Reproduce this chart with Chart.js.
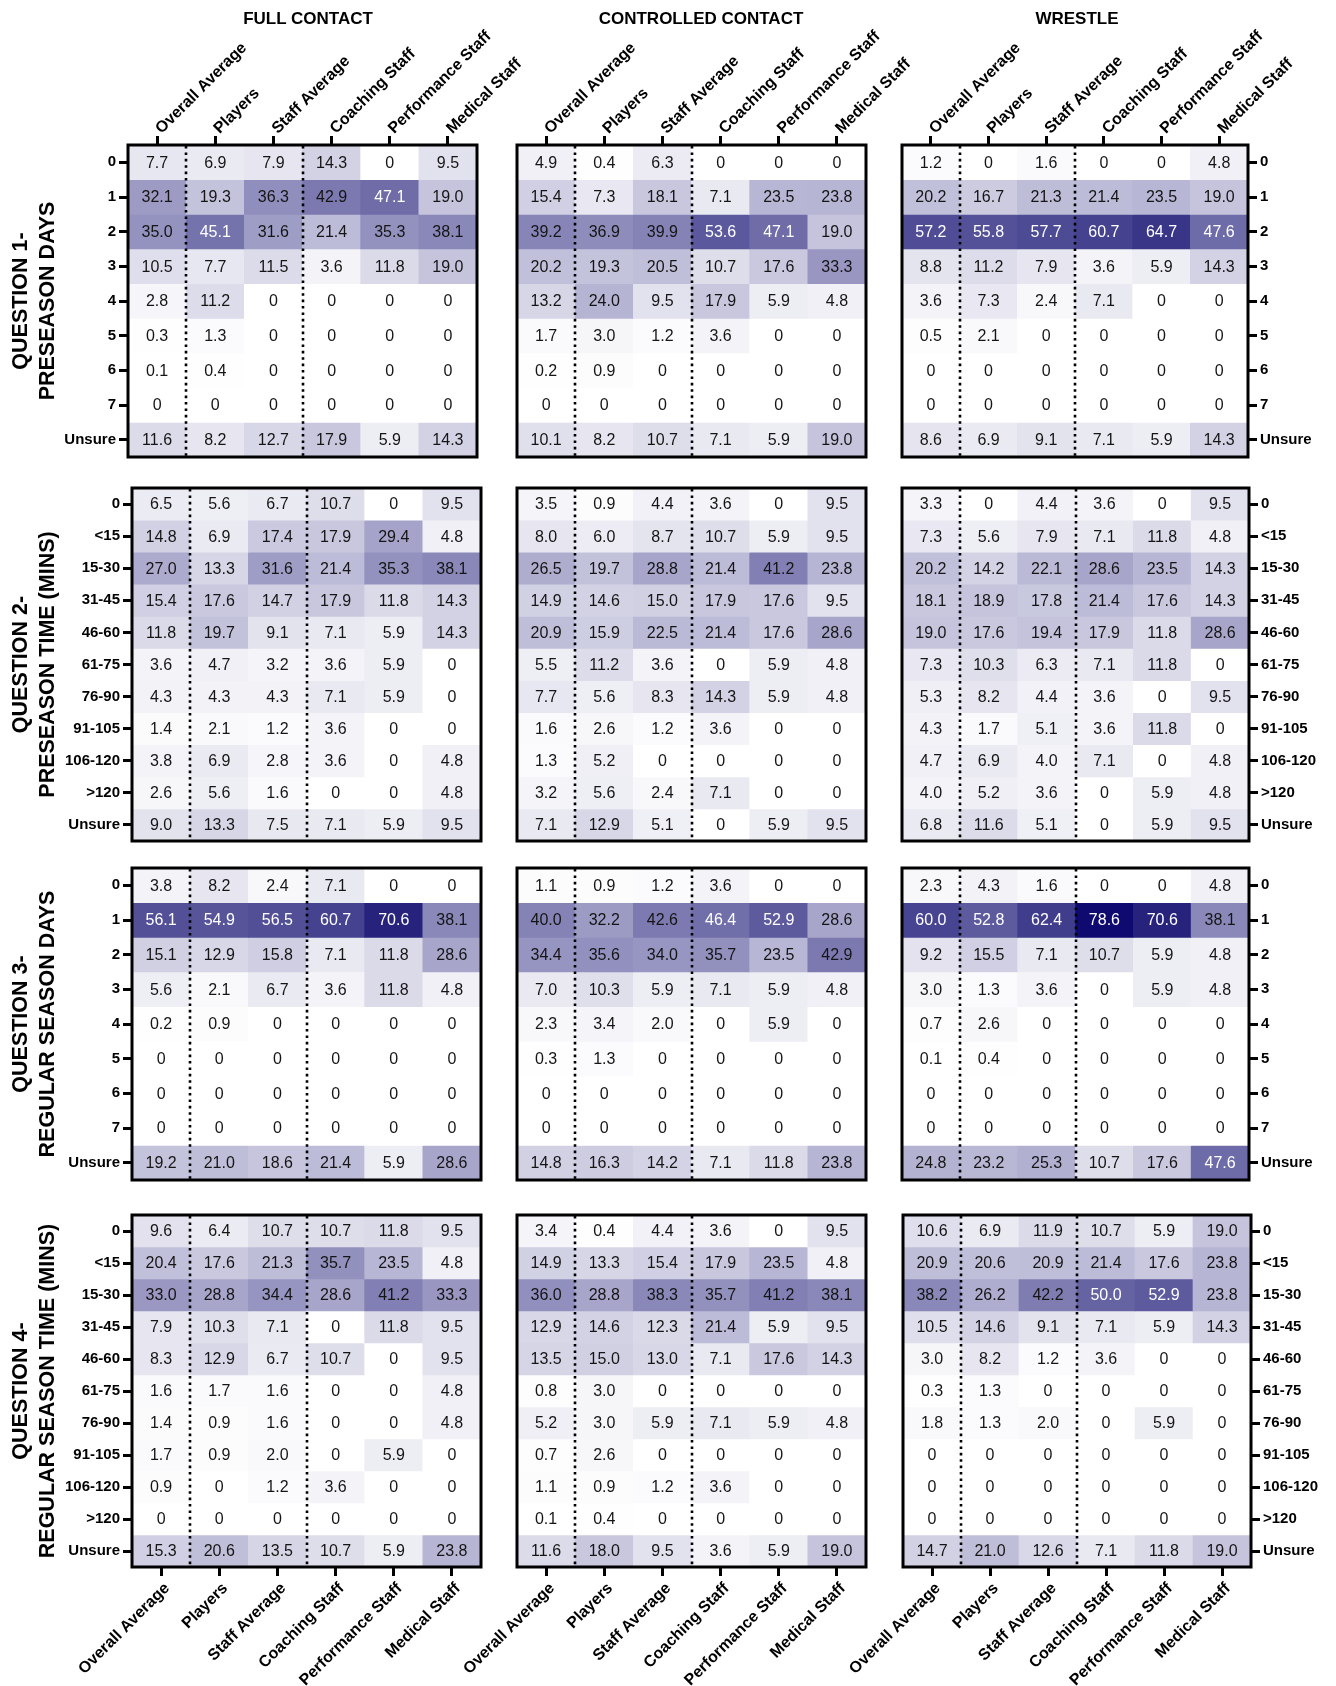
<!DOCTYPE html>
<html>
<head>
<meta charset="utf-8">
<script src="https://cdn.jsdelivr.net/npm/chart.js@4.4.1/dist/chart.umd.min.js"></script>
<style>
html,body{margin:0;padding:0;background:#fff;}
#wrap{position:relative;width:1336px;height:1686px;overflow:hidden;background:#fff;}
.hdr{position:absolute;top:9px;font:bold 17px "Liberation Sans",Arial,Helvetica,sans-serif;transform:translateX(-50%);white-space:nowrap;color:#000;z-index:5;}
canvas{position:absolute;}
</style>
</head>
<body>
<div id="wrap"></div>
<script>
// ---------- categories / labels ----------
const groups = ['Overall Average','Players','Staff Average','Coaching Staff','Performance Staff','Medical Staff'];
const contactTypes = ['FULL CONTACT','CONTROLLED CONTACT','WRESTLE'];
const dayLabels = ['0','1','2','3','4','5','6','7','Unsure'];
const timeLabels = ['0','<15','15-30','31-45','46-60','61-75','76-90','91-105','106-120','>120','Unsure'];
const questionTitles = [
  ['QUESTION 1-','PRESEASON DAYS'],
  ['QUESTION 2-','PRESEASON TIME (MINS)'],
  ['QUESTION 3-','REGULAR SEASON DAYS'],
  ['QUESTION 4-','REGULAR SEASON TIME (MINS)']
];

// ---------- values (% of respondents), rows x groups ----------
const q1FullContact = [
  [7.7, 6.9, 7.9, 14.3, 0, 9.5],
  [32.1, 19.3, 36.3, 42.9, 47.1, 19.0],
  [35.0, 45.1, 31.6, 21.4, 35.3, 38.1],
  [10.5, 7.7, 11.5, 3.6, 11.8, 19.0],
  [2.8, 11.2, 0, 0, 0, 0],
  [0.3, 1.3, 0, 0, 0, 0],
  [0.1, 0.4, 0, 0, 0, 0],
  [0, 0, 0, 0, 0, 0],
  [11.6, 8.2, 12.7, 17.9, 5.9, 14.3]
];
const q1ControlledContact = [
  [4.9, 0.4, 6.3, 0, 0, 0],
  [15.4, 7.3, 18.1, 7.1, 23.5, 23.8],
  [39.2, 36.9, 39.9, 53.6, 47.1, 19.0],
  [20.2, 19.3, 20.5, 10.7, 17.6, 33.3],
  [13.2, 24.0, 9.5, 17.9, 5.9, 4.8],
  [1.7, 3.0, 1.2, 3.6, 0, 0],
  [0.2, 0.9, 0, 0, 0, 0],
  [0, 0, 0, 0, 0, 0],
  [10.1, 8.2, 10.7, 7.1, 5.9, 19.0]
];
const q1Wrestle = [
  [1.2, 0, 1.6, 0, 0, 4.8],
  [20.2, 16.7, 21.3, 21.4, 23.5, 19.0],
  [57.2, 55.8, 57.7, 60.7, 64.7, 47.6],
  [8.8, 11.2, 7.9, 3.6, 5.9, 14.3],
  [3.6, 7.3, 2.4, 7.1, 0, 0],
  [0.5, 2.1, 0, 0, 0, 0],
  [0, 0, 0, 0, 0, 0],
  [0, 0, 0, 0, 0, 0],
  [8.6, 6.9, 9.1, 7.1, 5.9, 14.3]
];
const q2FullContact = [
  [6.5, 5.6, 6.7, 10.7, 0, 9.5],
  [14.8, 6.9, 17.4, 17.9, 29.4, 4.8],
  [27.0, 13.3, 31.6, 21.4, 35.3, 38.1],
  [15.4, 17.6, 14.7, 17.9, 11.8, 14.3],
  [11.8, 19.7, 9.1, 7.1, 5.9, 14.3],
  [3.6, 4.7, 3.2, 3.6, 5.9, 0],
  [4.3, 4.3, 4.3, 7.1, 5.9, 0],
  [1.4, 2.1, 1.2, 3.6, 0, 0],
  [3.8, 6.9, 2.8, 3.6, 0, 4.8],
  [2.6, 5.6, 1.6, 0, 0, 4.8],
  [9.0, 13.3, 7.5, 7.1, 5.9, 9.5]
];
const q2ControlledContact = [
  [3.5, 0.9, 4.4, 3.6, 0, 9.5],
  [8.0, 6.0, 8.7, 10.7, 5.9, 9.5],
  [26.5, 19.7, 28.8, 21.4, 41.2, 23.8],
  [14.9, 14.6, 15.0, 17.9, 17.6, 9.5],
  [20.9, 15.9, 22.5, 21.4, 17.6, 28.6],
  [5.5, 11.2, 3.6, 0, 5.9, 4.8],
  [7.7, 5.6, 8.3, 14.3, 5.9, 4.8],
  [1.6, 2.6, 1.2, 3.6, 0, 0],
  [1.3, 5.2, 0, 0, 0, 0],
  [3.2, 5.6, 2.4, 7.1, 0, 0],
  [7.1, 12.9, 5.1, 0, 5.9, 9.5]
];
const q2Wrestle = [
  [3.3, 0, 4.4, 3.6, 0, 9.5],
  [7.3, 5.6, 7.9, 7.1, 11.8, 4.8],
  [20.2, 14.2, 22.1, 28.6, 23.5, 14.3],
  [18.1, 18.9, 17.8, 21.4, 17.6, 14.3],
  [19.0, 17.6, 19.4, 17.9, 11.8, 28.6],
  [7.3, 10.3, 6.3, 7.1, 11.8, 0],
  [5.3, 8.2, 4.4, 3.6, 0, 9.5],
  [4.3, 1.7, 5.1, 3.6, 11.8, 0],
  [4.7, 6.9, 4.0, 7.1, 0, 4.8],
  [4.0, 5.2, 3.6, 0, 5.9, 4.8],
  [6.8, 11.6, 5.1, 0, 5.9, 9.5]
];
const q3FullContact = [
  [3.8, 8.2, 2.4, 7.1, 0, 0],
  [56.1, 54.9, 56.5, 60.7, 70.6, 38.1],
  [15.1, 12.9, 15.8, 7.1, 11.8, 28.6],
  [5.6, 2.1, 6.7, 3.6, 11.8, 4.8],
  [0.2, 0.9, 0, 0, 0, 0],
  [0, 0, 0, 0, 0, 0],
  [0, 0, 0, 0, 0, 0],
  [0, 0, 0, 0, 0, 0],
  [19.2, 21.0, 18.6, 21.4, 5.9, 28.6]
];
const q3ControlledContact = [
  [1.1, 0.9, 1.2, 3.6, 0, 0],
  [40.0, 32.2, 42.6, 46.4, 52.9, 28.6],
  [34.4, 35.6, 34.0, 35.7, 23.5, 42.9],
  [7.0, 10.3, 5.9, 7.1, 5.9, 4.8],
  [2.3, 3.4, 2.0, 0, 5.9, 0],
  [0.3, 1.3, 0, 0, 0, 0],
  [0, 0, 0, 0, 0, 0],
  [0, 0, 0, 0, 0, 0],
  [14.8, 16.3, 14.2, 7.1, 11.8, 23.8]
];
const q3Wrestle = [
  [2.3, 4.3, 1.6, 0, 0, 4.8],
  [60.0, 52.8, 62.4, 78.6, 70.6, 38.1],
  [9.2, 15.5, 7.1, 10.7, 5.9, 4.8],
  [3.0, 1.3, 3.6, 0, 5.9, 4.8],
  [0.7, 2.6, 0, 0, 0, 0],
  [0.1, 0.4, 0, 0, 0, 0],
  [0, 0, 0, 0, 0, 0],
  [0, 0, 0, 0, 0, 0],
  [24.8, 23.2, 25.3, 10.7, 17.6, 47.6]
];
const q4FullContact = [
  [9.6, 6.4, 10.7, 10.7, 11.8, 9.5],
  [20.4, 17.6, 21.3, 35.7, 23.5, 4.8],
  [33.0, 28.8, 34.4, 28.6, 41.2, 33.3],
  [7.9, 10.3, 7.1, 0, 11.8, 9.5],
  [8.3, 12.9, 6.7, 10.7, 0, 9.5],
  [1.6, 1.7, 1.6, 0, 0, 4.8],
  [1.4, 0.9, 1.6, 0, 0, 4.8],
  [1.7, 0.9, 2.0, 0, 5.9, 0],
  [0.9, 0, 1.2, 3.6, 0, 0],
  [0, 0, 0, 0, 0, 0],
  [15.3, 20.6, 13.5, 10.7, 5.9, 23.8]
];
const q4ControlledContact = [
  [3.4, 0.4, 4.4, 3.6, 0, 9.5],
  [14.9, 13.3, 15.4, 17.9, 23.5, 4.8],
  [36.0, 28.8, 38.3, 35.7, 41.2, 38.1],
  [12.9, 14.6, 12.3, 21.4, 5.9, 9.5],
  [13.5, 15.0, 13.0, 7.1, 17.6, 14.3],
  [0.8, 3.0, 0, 0, 0, 0],
  [5.2, 3.0, 5.9, 7.1, 5.9, 4.8],
  [0.7, 2.6, 0, 0, 0, 0],
  [1.1, 0.9, 1.2, 3.6, 0, 0],
  [0.1, 0.4, 0, 0, 0, 0],
  [11.6, 18.0, 9.5, 3.6, 5.9, 19.0]
];
const q4Wrestle = [
  [10.6, 6.9, 11.9, 10.7, 5.9, 19.0],
  [20.9, 20.6, 20.9, 21.4, 17.6, 23.8],
  [38.2, 26.2, 42.2, 50.0, 52.9, 23.8],
  [10.5, 14.6, 9.1, 7.1, 5.9, 14.3],
  [3.0, 8.2, 1.2, 3.6, 0, 0],
  [0.3, 1.3, 0, 0, 0, 0],
  [1.8, 1.3, 2.0, 0, 5.9, 0],
  [0, 0, 0, 0, 0, 0],
  [0, 0, 0, 0, 0, 0],
  [0, 0, 0, 0, 0, 0],
  [14.7, 21.0, 12.6, 7.1, 11.8, 19.0]
];

const questionRows = [dayLabels, timeLabels, dayLabels, timeLabels];
const panelValues = [
  [q1FullContact, q1ControlledContact, q1Wrestle],
  [q2FullContact, q2ControlledContact, q2Wrestle],
  [q3FullContact, q3ControlledContact, q3Wrestle],
  [q4FullContact, q4ControlledContact, q4Wrestle]
];

// ---------- layout (page pixels) ----------
const PAGE_W = 1336, PAGE_H = 1686;
const rowY = [[145, 457], [488, 841], [868, 1180], [1215, 1567]];
const colX = [
  [[128, 477], [517, 866], [902, 1248]],
  [[132, 481], [517, 866], [902, 1249]],
  [[132, 481], [517, 866], [902, 1249]],
  [[132, 481], [517, 866], [903, 1251]]
];
const headerX = [308, 701, 1077];

const FONT = '"Liberation Sans", Arial, Helvetica, sans-serif';
Chart.defaults.font.family = FONT;
Chart.defaults.color = '#000';

function cellColor(v) {
  const t = Math.max(0, Math.min(1, v / 80));
  const lo = [255, 255, 255], hi = [10, 6, 108];
  const c = lo.map((a, k) => Math.round(a + (hi[k] - a) * t));
  return 'rgb(' + c.join(',') + ')';
}
function fmt(v) { return v === 0 ? '0' : v.toFixed(1); }

function heatPlugin(values) {
  return {
    id: 'heat',
    afterDatasetsDraw(chart) {
      const ctx = chart.ctx, a = chart.chartArea, xs = chart.scales.x;
      // dotted separators after "Overall Average" and after "Staff Average"
      ctx.save();
      ctx.strokeStyle = '#000';
      ctx.lineWidth = 2.6;
      ctx.lineCap = 'butt';
      ctx.setLineDash([2.6, 3.8]);
      [0, 2].forEach(k => {
        const px = Math.round((xs.getPixelForTick(k) + xs.getPixelForTick(k + 1)) / 2);
        ctx.beginPath();
        ctx.moveTo(px, a.top + 1);
        ctx.lineTo(px, a.bottom);
        ctx.stroke();
      });
      ctx.restore();
      // cell values
      ctx.save();
      ctx.font = '16px ' + FONT;
      ctx.textAlign = 'center';
      ctx.textBaseline = 'middle';
      chart.data.datasets.forEach((ds, i) => {
        const meta = chart.getDatasetMeta(i);
        meta.data.forEach((el, j) => {
          const v = values[i][j];
          ctx.fillStyle = v > 45 ? '#ffffff' : '#151515';
          ctx.fillText(fmt(v), el.x, (el.y + el.base) / 2 + 1);
        });
      });
      ctx.restore();
    },
    afterDraw(chart) {
      const ctx = chart.ctx, a = chart.chartArea;
      ctx.save();
      ctx.strokeStyle = '#000';
      ctx.lineWidth = 3;
      ctx.strokeRect(a.left, a.top, a.right - a.left, a.bottom - a.top);
      ctx.restore();
    }
  };
}

const wrap = document.getElementById('wrap');

contactTypes.forEach((name, c) => {
  const d = document.createElement('div');
  d.className = 'hdr';
  d.style.left = headerX[c] + 'px';
  d.textContent = name;
  wrap.appendChild(d);
});

function addPanel(q, c) {
  const values = panelValues[q][c];
  const rows = questionRows[q];
  const [x0, x1] = colX[q][c];
  const [y0, y1] = rowY[q];
  const showX = q === 0 || q === 3;
  const showY = c !== 1;
  const M = {
    l: c === 0 ? x0 : 72,
    r: c === 2 ? PAGE_W - x1 : 72,
    t: q === 0 ? y0 : 22,
    b: q === 3 ? PAGE_H - y1 : 22
  };
  const W = (x1 - x0) + M.l + M.r;
  const H = (y1 - y0) + M.t + M.b;
  const cv = document.createElement('canvas');
  cv.width = W; cv.height = H;
  cv.style.width = W + 'px'; cv.style.height = H + 'px';
  cv.style.left = (x0 - M.l) + 'px';
  cv.style.top = (y0 - M.t) + 'px';
  wrap.appendChild(cv);

  const tickGrid = {
    drawOnChartArea: false, drawTicks: true, offset: false,
    tickLength: 9, tickWidth: 3, tickColor: '#000', color: '#000', lineWidth: 3
  };

  const datasets = values.map((rowVals, i) => ({
    label: rows[i],
    data: rowVals.map(() => 1),
    backgroundColor: rowVals.map(cellColor),
    borderWidth: 0,
    barPercentage: 1,
    categoryPercentage: 1
  }));

  new Chart(cv, {
    type: 'bar',
    data: { labels: groups, datasets },
    options: {
      responsive: false,
      maintainAspectRatio: false,
      animation: false,
      events: [],
      layout: {
        padding: {
          left: c === 0 ? 0 : M.l,
          right: c === 2 ? 0 : M.r,
          top: q === 0 ? 0 : M.t,
          bottom: q === 3 ? 0 : M.b
        }
      },
      plugins: { legend: { display: false }, tooltip: { enabled: false }, title: { display: false } },
      scales: {
        x: {
          type: 'category',
          stacked: true,
          offset: true,
          position: q === 0 ? 'top' : 'bottom',
          display: showX,
          grid: tickGrid,
          border: { display: false },
          ticks: {
            color: '#000',
            font: { family: FONT, size: 16, weight: 'bold' },
            minRotation: 45, maxRotation: 45,
            padding: q === 0 ? -2 : 3,
            labelOffset: q === 0 ? 15 : 6,
            autoSkip: false
          },
          afterFit: (s) => { if (showX) s.height = q === 0 ? M.t : M.b; }
        },
        y: {
          type: 'linear',
          stacked: true,
          reverse: true,
          min: 0,
          max: rows.length,
          position: c === 2 ? 'right' : 'left',
          display: showY,
          grid: tickGrid,
          border: { display: false },
          afterBuildTicks: (s) => { s.ticks = rows.map((_, i) => ({ value: i + 0.5 })); },
          ticks: {
            color: '#000',
            font: { family: FONT, size: 15, weight: 'bold' },
            padding: 3,
            autoSkip: false,
            callback: (v, idx) => rows[idx]
          },
          title: {
            display: c === 0,
            text: questionTitles[q],
            color: '#000',
            font: { family: FONT, size: 21.5, weight: 'bold', lineHeight: 1.27 },
            padding: { top: 7, bottom: 0 }
          },
          afterFit: (s) => { if (showY) s.width = c === 0 ? M.l : M.r; }
        }
      }
    },
    plugins: [heatPlugin(values)]
  });
}

for (let q = 0; q < 4; q++) {
  for (let c = 0; c < 3; c++) addPanel(q, c);
}
</script>
</body>
</html>
